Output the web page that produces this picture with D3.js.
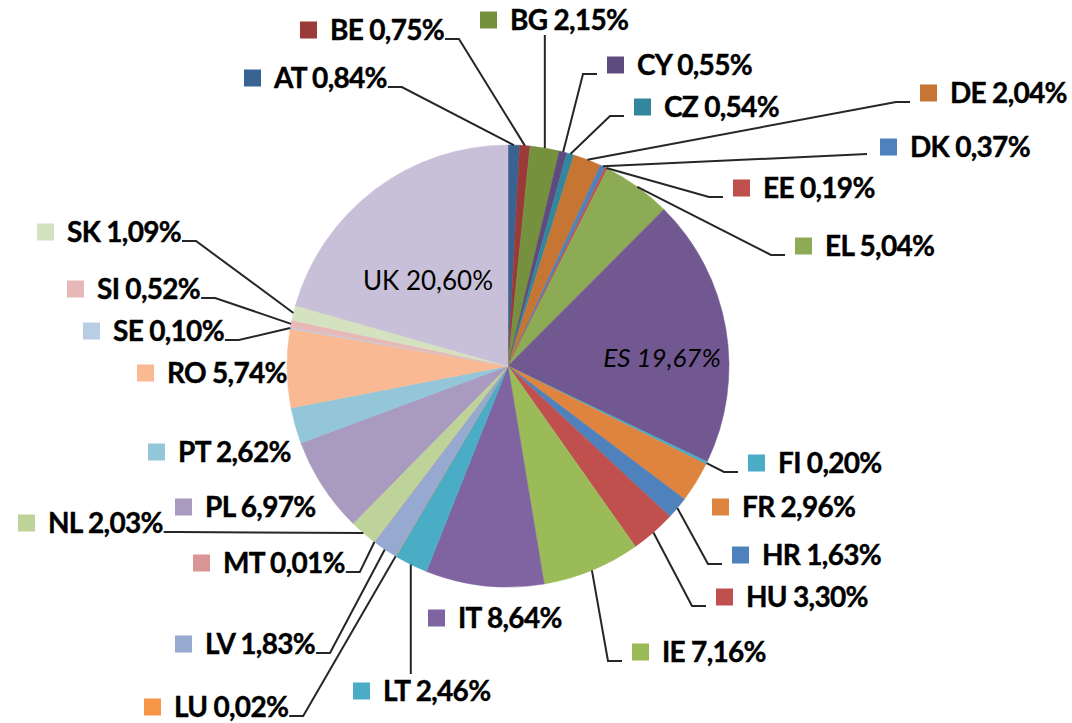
<!DOCTYPE html>
<html>
<head>
<meta charset="utf-8">
<script src="https://cdn.jsdelivr.net/npm/d3@7"></script>
<style>
  body { margin: 0; background: #fff; }
  svg { display: block; }
  .lbl { font-family: Lato, "Open Sans", sans-serif; font-weight: 700; font-size: 28px; letter-spacing: -0.7px; fill: #000; stroke: #000; stroke-width: 0.4px; }
  .inner { font-family: Lato, "Open Sans", sans-serif; font-weight: 400; font-size: 26px; fill: #000; }
</style>
</head>
<body>
<div id="chart"></div>
<script>
// values, clockwise from 12 o'clock
const countries = ['AT','BE','BG','CY','CZ','DE','DK','EE','EL','ES','FI','FR','HR','HU',
                   'IE','IT','LT','LU','LV','MT','NL','PL','PT','RO','SE','SI','SK','UK'];
const shares = [0.84, 0.75, 2.15, 0.55, 0.54, 2.04, 0.37, 0.19, 5.04, 19.67, 0.20, 2.96, 1.63, 3.30,
                7.16, 8.64, 2.46, 0.02, 1.83, 0.01, 2.03, 6.97, 2.62, 5.74, 0.10, 0.52, 1.09, 20.60];
const colors = ['#386393','#9A3B39','#75913E','#5F4A7F','#33879D','#C67532','#4F81BD','#C0504D',
                '#8DAB54','#725891','#4BACC6','#DE843F','#4F81BD','#C0504D','#9BBB59','#8064A2',
                '#4BACC6','#F79646','#95A9D1','#D99694','#BDD39A','#A99BC0','#93C6D8','#F9B993',
                '#B9CDE5','#E6B9B8','#D4E2C0','#C8BFD8'];

// where each label sits (legend key x, text centre y) and how its leader line runs
const labelLayout = {
  AT: {x: 244, y: 78,  leader: 'left'},
  BE: {x: 300, y: 30,  leader: 'left'},
  BG: {x: 480, y: 20,  leader: 'top'},
  CY: {x: 607, y: 65,  leader: 'right'},
  CZ: {x: 634, y: 107, leader: 'right'},
  DE: {x: 920, y: 93,  leader: 'right'},
  DK: {x: 880, y: 147, leader: 'direct'},
  EE: {x: 733, y: 188, leader: 'right'},
  EL: {x: 795, y: 246, leader: 'right'},
  ES: {x: 662, y: 358, leader: 'inside', italic: true},
  FI: {x: 748, y: 463, leader: 'right'},
  FR: {x: 712, y: 507, leader: null},
  HR: {x: 732, y: 555, leader: 'right'},
  HU: {x: 716, y: 597, leader: 'right'},
  IE: {x: 632, y: 652, leader: 'right'},
  IT: {x: 428, y: 618, leader: null},
  LT: {x: 353, y: 691, leader: 'bottom'},
  LU: {x: 144, y: 707, leader: 'left'},
  LV: {x: 175, y: 644, leader: 'left'},
  MT: {x: 193, y: 563, leader: 'left'},
  NL: {x: 18,  y: 523, leader: 'left'},
  PL: {x: 175, y: 507, leader: null},
  PT: {x: 148, y: 452, leader: null},
  RO: {x: 137, y: 373, leader: null},
  SE: {x: 83,  y: 331, leader: 'left'},
  SI: {x: 67,  y: 289, leader: 'left'},
  SK: {x: 37,  y: 232, leader: 'left'},
  UK: {x: 428, y: 281, leader: 'inside'}
};

const width = 1072, height = 723;
const cx = 508, cy = 366, radius = 221;
const keySize = 17, keyGap = 13;

const svg = d3.select('#chart').append('svg')
  .attr('width', width)
  .attr('height', height);

const data = countries.map((c, i) => ({country: c, value: shares[i], color: colors[i]}));

const pie = d3.pie().sort(null).value(d => d.value);
const arcs = pie(data);
const arc = d3.arc().innerRadius(0).outerRadius(radius);
const edge = d3.arc().innerRadius(radius).outerRadius(radius);

const chart = svg.append('g').attr('transform', `translate(${cx},${cy})`);

chart.selectAll('path.slice')
  .data(arcs)
  .join('path')
  .attr('class', 'slice')
  .attr('d', arc)
  .attr('fill', d => d.data.color)
  .attr('stroke', d => d.data.color)
  .attr('stroke-width', 0.5);

const fmt = v => v.toFixed(2).replace('.', ',') + '%';

const labels = svg.append('g');
const leaders = svg.append('g');

arcs.forEach(d => {
  const c = d.data.country;
  const lay = labelLayout[c];
  const txt = `${c} ${fmt(d.data.value)}`;

  if (lay.leader === 'inside') {
    labels.append('text')
      .attr('class', 'inner')
      .attr('x', lay.x)
      .attr('y', lay.y)
      .attr('dy', '0.35em')
      .attr('text-anchor', 'middle')
      .style('font-style', lay.italic ? 'italic' : 'normal')
      .text(txt);
    return;
  }

  labels.append('rect')
    .attr('x', lay.x)
    .attr('y', lay.y - keySize / 2)
    .attr('width', keySize)
    .attr('height', keySize)
    .attr('fill', d.data.color);

  const t = labels.append('text')
    .attr('class', 'lbl')
    .attr('x', lay.x + keySize + keyGap)
    .attr('y', lay.y)
    .attr('dy', '0.35em')
    .text(txt);

  if (!lay.leader) return;

  const [ex, ey] = edge.centroid(d);
  const start = [cx + ex, cy + ey];
  const textEnd = lay.x + keySize + keyGap + t.node().getComputedTextLength();
  let pts;
  if (lay.leader === 'left') {
    pts = [start, [textEnd + 15, lay.y + 9], [textEnd + 1, lay.y + 9]];
  } else if (lay.leader === 'right') {
    pts = [start, [lay.x - 24, lay.y + 9], [lay.x - 10, lay.y + 9]];
  } else if (lay.leader === 'direct') {
    pts = [start, [lay.x - 13, lay.y + 7]];
  } else if (lay.leader === 'top') {
    pts = [start, [start[0], lay.y + 15]];
  } else {
    pts = [start, [start[0], lay.y - 17]];
  }

  leaders.append('path')
    .attr('d', d3.line()(pts))
    .attr('fill', 'none')
    .attr('stroke', '#262626')
    .attr('stroke-width', 2);
});
</script>
</body>
</html>
